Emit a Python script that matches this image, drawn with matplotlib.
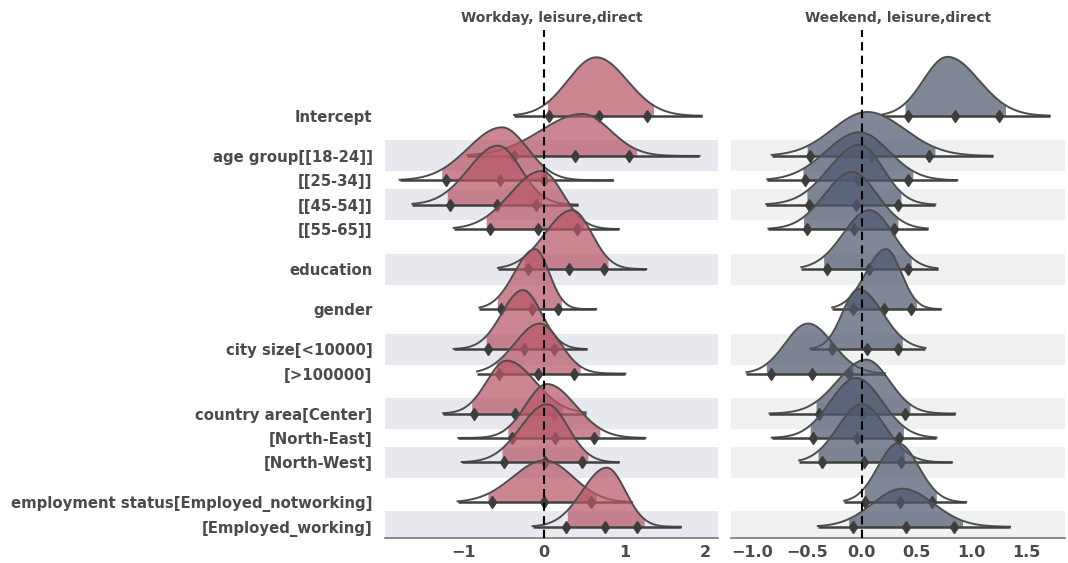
import matplotlib.pyplot as plt
import numpy as np

# row labels, grouped (groups get a bit of extra space between them)
groups = [
    ["Intercept"],
    ["age group[[18-24]]", "[[25-34]]", "[[45-54]]", "[[55-65]]"],
    ["education"],
    ["gender"],
    ["city size[<10000]", "[>100000]"],
    ["country area[Center]", "[North-East]", "[North-West]"],
    ["employment status[Employed_notworking]", "[Employed_working]"],
]

# Workday, leisure, direct
wd_lo    = [-0.37, -0.95, -1.79, -1.63, -1.12, -0.57, -0.80, -1.12, -0.83, -1.25, -1.06, -1.02, -1.07, -0.14]
wd_hi    = [ 1.96,  1.93,  0.86,  0.42,  0.93,  1.27,  0.65,  0.53,  1.01,  0.52,  1.26,  0.93,  1.09,  1.70]
wd_q05   = [ 0.07, -0.37, -1.21, -1.17, -0.67, -0.20, -0.53, -0.69, -0.56, -0.87, -0.40, -0.50, -0.64,  0.28]
wd_q50   = [ 0.69,  0.39, -0.54, -0.58, -0.07,  0.31, -0.15, -0.25, -0.07, -0.36,  0.14,  0.01,  0.00,  0.76]
wd_q95   = [ 1.28,  1.05,  0.00, -0.10,  0.41,  0.75,  0.18,  0.12,  0.37,  0.12,  0.62,  0.47,  0.59,  1.16]
wd_mode  = [ 0.65,  0.48, -0.52, -0.57, -0.03,  0.35, -0.11, -0.26, -0.05, -0.46,  0.04,  0.04,  0.01,  0.78]
wd_peak  = [ 2.40,  1.72,  2.17,  2.42,  2.38,  2.42,  2.46,  2.42,  2.05,  2.17,  2.21,  2.38,  1.72,  2.42]
wd_fill0 = [ 0.04, -0.45, -1.27, -1.20, -0.72, -0.25, -0.58, -0.72, -0.59, -0.90, -0.45, -0.52, -0.70,  0.29]
wd_fill1 = [ 1.36,  1.15,  0.05, -0.02,  0.50,  0.80,  0.22,  0.20,  0.45,  0.23,  0.70,  0.55,  0.65,  1.25]

# Weekend, leisure, direct
we_lo    = [ 0.19, -0.82, -0.86, -0.87, -0.85, -0.55, -0.27, -0.47, -1.05, -0.84, -0.82, -0.57, -0.16, -0.40]
we_hi    = [ 1.71,  1.19,  0.87,  0.67,  0.60,  0.69,  0.72,  0.58,  0.21,  0.85,  0.68,  0.82,  0.95,  1.35]
we_q05   = [ 0.42, -0.47, -0.52, -0.48, -0.50, -0.32, -0.08, -0.27, -0.83, -0.39, -0.44, -0.36,  0.03, -0.08]
we_q50   = [ 0.85,  0.08, -0.03, -0.05, -0.07,  0.07,  0.20,  0.05, -0.45,  0.00, -0.04,  0.02,  0.35,  0.40]
we_q95   = [ 1.25,  0.61,  0.42,  0.33,  0.29,  0.42,  0.45,  0.33, -0.12,  0.39,  0.34,  0.36,  0.64,  0.84]
we_mode  = [ 0.78,  0.05, -0.02, -0.02, -0.09,  0.07,  0.22, -0.03, -0.49,  0.04, -0.05,  0.00,  0.33,  0.37]
we_peak  = [ 2.42,  1.80,  1.97,  2.46,  2.34,  2.42,  2.46,  2.46,  2.05,  2.21,  2.46,  2.38,  2.42,  1.56]
we_fill0 = [ 0.39, -0.50, -0.54, -0.50, -0.53, -0.35, -0.14, -0.30, -0.87, -0.42, -0.47, -0.40,  0.02, -0.12]
we_fill1 = [ 1.31,  0.67,  0.47,  0.36,  0.33,  0.45,  0.50,  0.37, -0.08,  0.44,  0.38,  0.39,  0.68,  0.92]

panels = [
    ("Workday, leisure,direct", wd_lo, wd_hi, wd_q05, wd_q50, wd_q95, wd_mode, wd_peak, wd_fill0, wd_fill1,
     "#b85868", "#e8e9ee", (-1.97, 2.16), [-1, 0, 1, 2], ["\u22121", "0", "1", "2"]),
    ("Weekend, leisure,direct", we_lo, we_hi, we_q05, we_q50, we_q95, we_mode, we_peak, we_fill0, we_fill1,
     "#4f5a70", "#f0f1f1", (-1.19, 1.85), [-1.0, -0.5, 0.0, 0.5, 1.0, 1.5],
     ["\u22121.0", "\u22120.5", "0.0", "0.5", "1.0", "1.5"]),
]

# y position of every row
labels, ypos = [], []
y = 0.0
for gi, g in enumerate(groups):
    if gi > 0:
        y += 0.64
    for lab in g:
        labels.append(lab)
        ypos.append(y)
        y += 1.0
y_top, y_bot = -3.52, 17.3

txt = "#4a4a4a"
fig = plt.figure(figsize=(10.68, 5.63), dpi=100)
ax1 = fig.add_axes([0.3605, 0.0444, 0.3118, 0.9023])
ax2 = fig.add_axes([0.6845, 0.0444, 0.3127, 0.9023])

for ax, p in zip([ax1, ax2], panels):
    (title, lo, hi, q05, q50, q95, mode, peak, f0, f1, col, band, xl, ticks, ticklabs) = p
    ax.set_xlim(*xl)
    ax.set_ylim(y_bot, y_top)

    # alternating shaded rows
    for i, yy in enumerate(ypos):
        if i % 2 == 1:
            ax.axhspan(yy - 0.635, yy + 0.635, color=band, lw=0, zorder=0)

    for i, yy in enumerate(ypos):
        xs = np.linspace(lo[i], hi[i], 300)
        sl = (mode[i] - q05[i]) / 1.645
        sr = (q95[i] - mode[i]) / 1.645
        s = np.where(xs < mode[i], max(sl, 0.05), max(sr, 0.05))
        dens = np.exp(-0.5 * ((xs - mode[i]) / s) ** 2) * peak[i]
        z = 2 + i
        m = (xs >= f0[i]) & (xs <= f1[i])
        ax.fill_between(xs[m], yy, yy - dens[m], color=col, alpha=0.72, lw=0, zorder=z)
        ax.plot(xs, yy - dens, color="#4d4d4d", lw=1.4, zorder=z + 0.1)
        ax.plot([lo[i], hi[i]], [yy, yy], color="#404040", lw=1.8, zorder=z + 0.2,
                solid_capstyle="butt")
        ax.plot([q05[i], q50[i], q95[i]], [yy] * 3, "d", color="#3d3d3d", ms=6,
                zorder=z + 0.3)

    ax.axvline(0, color="black", ls=(0, (4, 2.5)), lw=1.5, zorder=50)
    ax.set_title(title, fontsize=10, fontweight="bold", color=txt, pad=6)
    ax.set_xticks(ticks)
    ax.set_xticklabels(ticklabs)
    for sp in ["left", "right", "top"]:
        ax.spines[sp].set_visible(False)
    ax.spines["bottom"].set_color("#777777")
    ax.spines["bottom"].set_linewidth(1.2)
    ax.tick_params(axis="x", length=0, pad=5, labelsize=11.5, labelcolor=txt)
    for t in ax.get_xticklabels():
        t.set_fontweight("bold")
    ax.tick_params(axis="y", length=0)

ax1.set_yticks(ypos)
ax1.set_yticklabels(labels, fontsize=10.7, fontweight="bold", color=txt)
ax1.tick_params(axis="y", pad=9)
ax2.set_yticks([])

fig.savefig("out.png", dpi=100)
